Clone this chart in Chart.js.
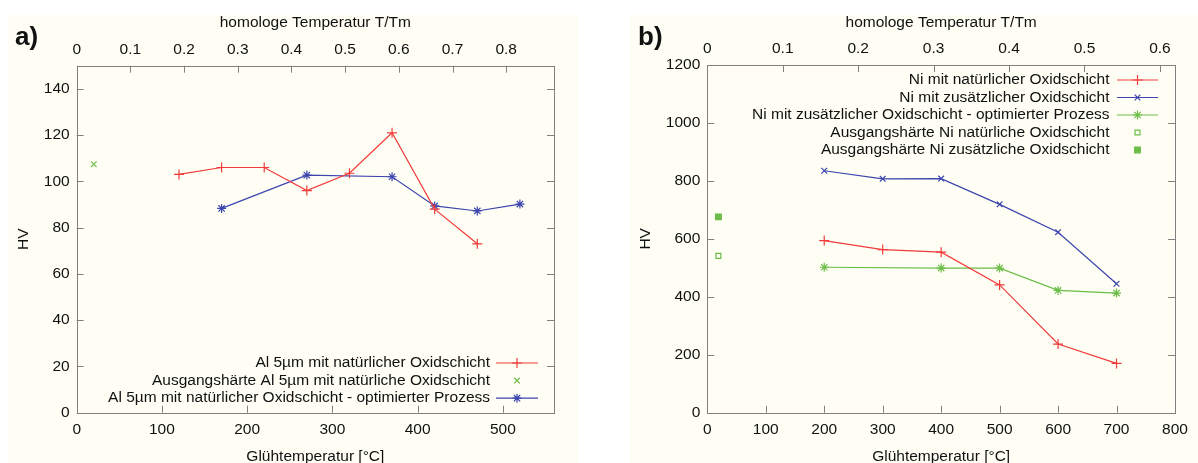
<!DOCTYPE html>
<html>
<head>
<meta charset="utf-8">
<script src="https://cdn.jsdelivr.net/npm/chart.js@4.4.1/dist/chart.umd.min.js"></script>
<style>
    body { margin: 0; background: #fff; width: 1198px; height: 463px; overflow: hidden; position: relative; font-family: "Liberation Sans", Arial, sans-serif; }
    .panel { position: absolute; top: 15px; height: 448px; background: #fefef4; }
    .tag { position: absolute; font-weight: bold; font-size: 26px; color: #111; }
    canvas { position: absolute; top: 0; }
</style>
</head>
<body>
<div class="panel" style="left:8px;width:570px"></div>
<div class="panel" style="left:630px;width:568px"></div>
<canvas id="chartA" width="570" height="470" style="left:8px"></canvas>
<canvas id="chartB" width="568" height="470" style="left:630px"></canvas>
<div class="tag" style="left:15px;top:21px">a)</div>
<div class="tag" style="left:638px;top:21px">b)</div>
<script>
// Panel a: Al 5µm
const alTemp = [120, 170, 220, 270, 320, 370, 420, 470];
const alHV = [103, 106, 106, 96, 103.5, 121, 88, 73];
const alStartTemp = [20];
const alStartHV = [107.4];
const alOptTemp = [170, 270, 370, 420, 470, 520];
const alOptHV = [88.3, 102.7, 102, 89.4, 87.2, 90.2];

// Panel b: Ni
const niTemp = [200, 300, 400, 500, 600, 700];
const niNatHV = [594, 563, 554, 441, 237, 170];
const niAddHV = [835, 807, 808, 719, 623, 445];
const niOptTemp = [200, 400, 500, 600, 700];
const niOptHV = [502, 499, 499, 422, 413];
const niStartTemp = [19];
const niStartNatHV = [541];
const niStartAddHV = [676];

const RED = '#f23a3a';
const BLUE = '#3c44ae';
const GREEN = '#6cbd48';
const GRAY = '#808080';
const FONT = '"Liberation Sans", Arial, sans-serif';
const FONT_SIZE = 15.5;

function pts(xs, ys) {
    return xs.map((x, i) => ({x: x, y: ys[i]}));
}

function series(label, xs, ys, color, style, radius, line, fill) {
    return {
        label: label,
        data: pts(xs, ys),
        showLine: line,
        borderColor: color,
        borderWidth: 1.2,
        pointStyle: style,
        pointRadius: radius,
        pointBorderColor: color,
        pointBackgroundColor: fill || 'rgba(0,0,0,0)',
        pointBorderWidth: 1.2,
        tension: 0
    };
}

// border box and inward ticks on all four sides
const frame = {
    id: 'frame',
    beforeDatasetsDraw(chart) {
        const {ctx, chartArea: a, scales} = chart;
        const tl = 7;
        ctx.save();
        ctx.strokeStyle = GRAY;
        ctx.lineWidth = 1;
        ctx.beginPath();
        scales.x.ticks.forEach((t) => {
            const px = Math.round(scales.x.getPixelForValue(t.value)) + 0.5;
            ctx.moveTo(px, a.bottom);
            ctx.lineTo(px, a.bottom - tl);
        });
        scales.x2.ticks.forEach((t) => {
            const px = Math.round(scales.x2.getPixelForValue(t.value)) + 0.5;
            ctx.moveTo(px, a.top);
            ctx.lineTo(px, a.top + tl);
        });
        scales.y.ticks.forEach((t) => {
            const py = Math.round(scales.y.getPixelForValue(t.value)) + 0.5;
            ctx.moveTo(a.left, py);
            ctx.lineTo(a.left + tl, py);
            ctx.moveTo(a.right, py);
            ctx.lineTo(a.right - tl, py);
        });
        ctx.stroke();
        ctx.strokeRect(Math.round(a.left) + 0.5, Math.round(a.top) + 0.5,
            Math.round(a.right - a.left), Math.round(a.bottom - a.top));
        ctx.restore();
    }
};

// gnuplot style key: text right aligned, sample after it
const key = {
    id: 'key',
    afterDatasetsDraw(chart, args, opts) {
        const ctx = chart.ctx;
        const mid = (opts.lineLeft + opts.lineRight) / 2;
        ctx.save();
        ctx.font = FONT_SIZE + 'px ' + FONT;
        ctx.textAlign = 'right';
        ctx.textBaseline = 'middle';
        chart.data.datasets.forEach((ds, i) => {
            const y = opts.y + i * opts.gap;
            ctx.fillStyle = '#111';
            ctx.fillText(ds.label, opts.textRight, y);
            ctx.strokeStyle = ds.borderColor;
            ctx.lineWidth = ds.borderWidth;
            if (ds.showLine) {
                ctx.beginPath();
                ctx.moveTo(opts.lineLeft, y);
                ctx.lineTo(opts.lineRight, y);
                ctx.stroke();
            }
            ctx.fillStyle = ds.pointBackgroundColor;
            ctx.lineWidth = ds.pointBorderWidth;
            Chart.helpers.drawPoint(ctx, {
                pointStyle: ds.pointStyle,
                radius: ds.pointRadius,
                rotation: 0,
                borderWidth: ds.pointBorderWidth
            }, mid, y);
        });
        ctx.restore();
    }
};

function options(cfg) {
    const tickFont = {family: FONT, size: FONT_SIZE};
    const noGrid = {display: false, drawTicks: false};
    return {
        responsive: false,
        animation: false,
        layout: {padding: {left: 0, right: cfg.padRight, top: 0, bottom: 0}},
        plugins: {
            legend: {display: false},
            tooltip: {enabled: false},
            key: cfg.key
        },
        scales: {
            x: {
                type: 'linear', position: 'bottom',
                min: 0, max: cfg.xMax,
                grid: noGrid, border: {display: false},
                ticks: {stepSize: cfg.xStep, includeBounds: false, autoSkip: false, maxRotation: 0,
                    padding: 8, color: '#111', font: tickFont, callback: (v) => String(v)},
                title: {display: true, text: 'Glühtemperatur [°C]', color: '#111',
                    font: tickFont, padding: {top: 0, bottom: 4}},
                afterFit: (s) => { s.height = 470 - cfg.bottom; }
            },
            x2: {
                type: 'linear', position: 'top',
                min: 0, max: cfg.x2Max,
                grid: noGrid, border: {display: false},
                ticks: {stepSize: 0.1, includeBounds: false, autoSkip: false, maxRotation: 0,
                    padding: 7, color: '#111', font: tickFont,
                    callback: (v) => String(Math.round(v * 10) / 10)},
                title: {display: true, text: 'homologe Temperatur T/Tm', color: '#111',
                    font: tickFont, padding: {top: 13, bottom: 0}},
                afterFit: (s) => { s.height = cfg.top; }
            },
            y: {
                type: 'linear', position: 'left',
                min: 0, max: cfg.yMax,
                grid: noGrid, border: {display: false},
                ticks: {stepSize: cfg.yStep, includeBounds: false, autoSkip: false,
                    padding: 7, color: '#111', font: tickFont, callback: (v) => String(v)},
                title: {display: true, text: 'HV', color: '#111',
                    font: tickFont, padding: {top: 6, bottom: 0}},
                afterFit: (s) => { s.width = cfg.left; }
            }
        }
    };
}

new Chart(document.getElementById('chartA'), {
    type: 'scatter',
    data: {
        datasets: [
            series('Al 5µm mit natürlicher Oxidschicht', alTemp, alHV, RED, 'cross', 5, true),
            series('Ausgangshärte Al 5µm mit natürliche Oxidschicht', alStartTemp, alStartHV, GREEN, 'crossRot', 4, false),
            series('Al 5µm mit natürlicher Oxidschicht - optimierter Prozess', alOptTemp, alOptHV, BLUE, 'star', 4.5, true)
        ]
    },
    options: options({
        xMax: 560, xStep: 100, x2Max: 0.889, yMax: 150, yStep: 20,
        left: 68.7, top: 65.7, bottom: 412.7, padRight: 24,
        key: {textRight: 482, lineLeft: 488, lineRight: 530, y: 363, gap: 17.6}
    }),
    plugins: [frame, key]
});

new Chart(document.getElementById('chartB'), {
    type: 'scatter',
    data: {
        datasets: [
            series('Ni mit natürlicher Oxidschicht', niTemp, niNatHV, RED, 'cross', 5, true),
            series('Ni mit zusätzlicher Oxidschicht', niTemp, niAddHV, BLUE, 'crossRot', 4, true),
            series('Ni mit zusätzlicher Oxidschicht - optimierter Prozess', niOptTemp, niOptHV, GREEN, 'star', 4.5, true),
            series('Ausgangshärte Ni natürliche Oxidschicht', niStartTemp, niStartNatHV, GREEN, 'rect', 3.5, false),
            series('Ausgangshärte Ni zusätzliche Oxidschicht', niStartTemp, niStartAddHV, GREEN, 'rect', 4, false, GREEN)
        ]
    },
    options: options({
        xMax: 800, xStep: 100, x2Max: 0.62, yMax: 1200, yStep: 200,
        left: 77.3, top: 65, bottom: 412.7, padRight: 23,
        key: {textRight: 479.5, lineLeft: 487, lineRight: 528, y: 80, gap: 17.5}
    }),
    plugins: [frame, key]
});
</script>
</body>
</html>
